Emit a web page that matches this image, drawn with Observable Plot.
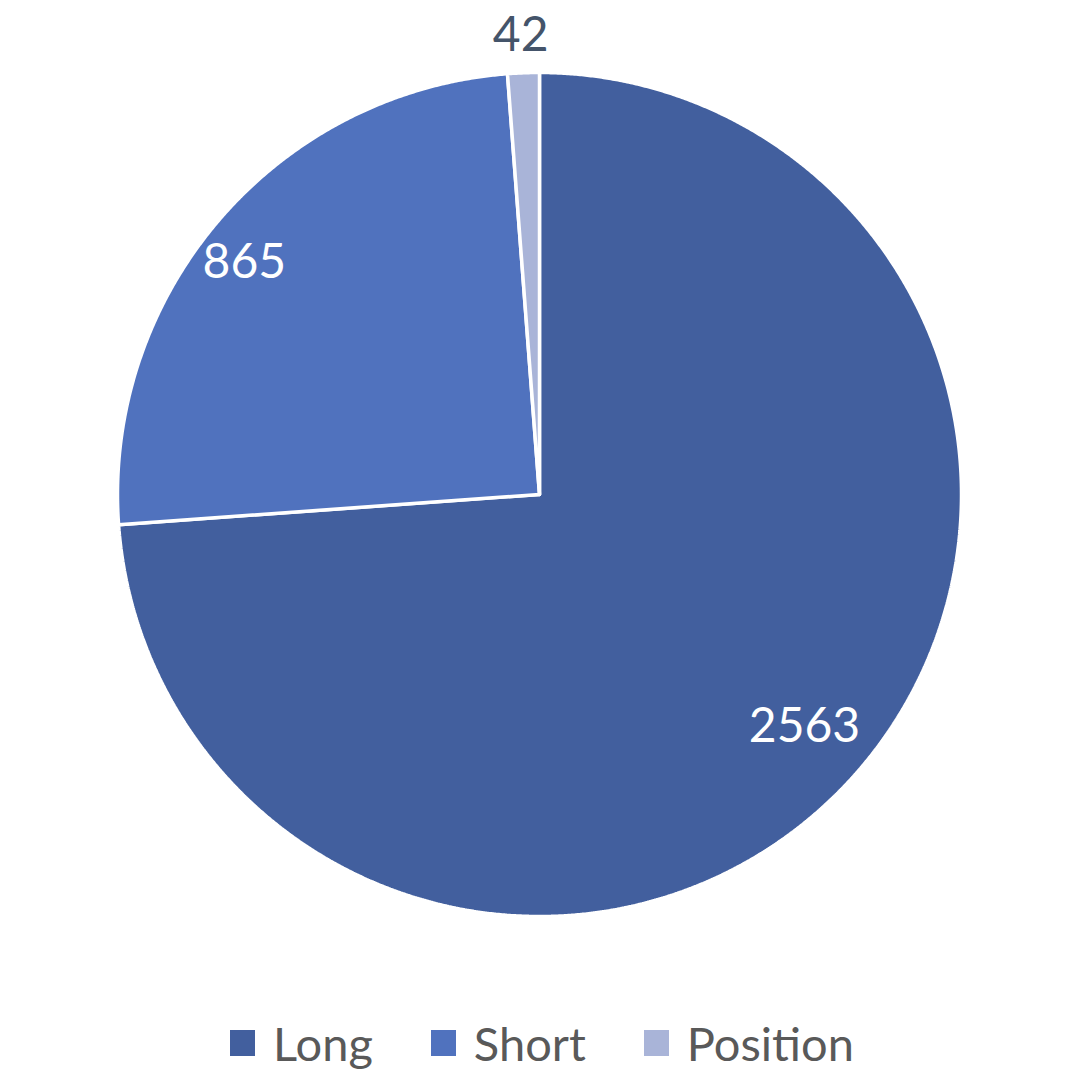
<!DOCTYPE html>
<html>
<head>
<meta charset="utf-8">
<script src="https://cdn.jsdelivr.net/npm/d3@7"></script>
<script src="https://cdn.jsdelivr.net/npm/@observablehq/plot@0.6"></script>
<style>
  html, body { margin: 0; padding: 0; background: #ffffff; }
  #chart { width: 1080px; }
  .legend { display: flex; justify-content: center; align-items: center; gap: 58px;
            font-family: Lato, "Open Sans", sans-serif; font-size: 47px; color: #595959;
            height: 56px; margin-left: 4px; }
  .legend .item { display: flex; align-items: center; gap: 18px; }
  .legend .sw { width: 25px; height: 26px; display: inline-block; }
</style>
</head>
<body>
<div id="chart"></div>
<script>
const categories = ["Long", "Short", "Position"];
const values = [2563, 865, 42];
const colors = ["#425F9E", "#5072BE", "#A9B4D8"];
const labelColors = ["#ffffff", "#ffffff", "#44546A"];

const pie = d3.pie().sort(null).value(d => d.value)(categories.map((c, i) => ({name: c, value: values[i]})));

// build polygon outlines from pie angles (clockwise from top)
function slicePoints(p) {
  const pts = [{x: 0, y: 0}];
  const n = Math.max(4, Math.ceil((p.endAngle - p.startAngle) / (Math.PI / 720)));
  for (let k = 0; k <= n; k++) {
    const a = p.startAngle + (p.endAngle - p.startAngle) * k / n;
    pts.push({x: Math.sin(a), y: Math.cos(a)});
  }
  pts.push({x: 0, y: 0});
  return pts;
}

const labelRadius = [0.835, 0.89, 1.088];
const labelShift = [-0.03, -0.045, -0.003];
const labels = pie.map((p, i) => {
  const a = (p.startAngle + p.endAngle) / 2 + labelShift[i];
  return {x: labelRadius[i] * Math.sin(a), y: labelRadius[i] * Math.cos(a), text: String(values[i]), color: labelColors[i]};
});

const marks = pie.map((p, i) => Plot.line(slicePoints(p), {
  x: "x", y: "y", fill: colors[i], stroke: "#ffffff", strokeWidth: 3.5, strokeLinejoin: "miter", curve: "linear"
}));
marks.push(Plot.text(labels, {
  x: "x", y: "y", text: "text", fill: d => d.color, fontSize: 48, fontFamily: "Lato, 'Open Sans', sans-serif",
  textAnchor: "middle", lineAnchor: "middle"
}));

const chart = Plot.plot({
  width: 1080,
  height: 1015,
  margin: 0,
  style: {background: "#ffffff"},
  x: {domain: [-1, 1], range: [117, 961], axis: null},
  y: {domain: [-1, 1], range: [916, 72], axis: null},
  marks
});
document.getElementById("chart").appendChild(chart);

const legend = document.createElement("div");
legend.className = "legend";
categories.forEach((c, i) => {
  const item = document.createElement("div");
  item.className = "item";
  const sw = document.createElement("span");
  sw.className = "sw";
  sw.style.background = colors[i];
  const t = document.createElement("span");
  t.textContent = c;
  item.appendChild(sw);
  item.appendChild(t);
  legend.appendChild(item);
});
document.getElementById("chart").appendChild(legend);
</script>
</body>
</html>
